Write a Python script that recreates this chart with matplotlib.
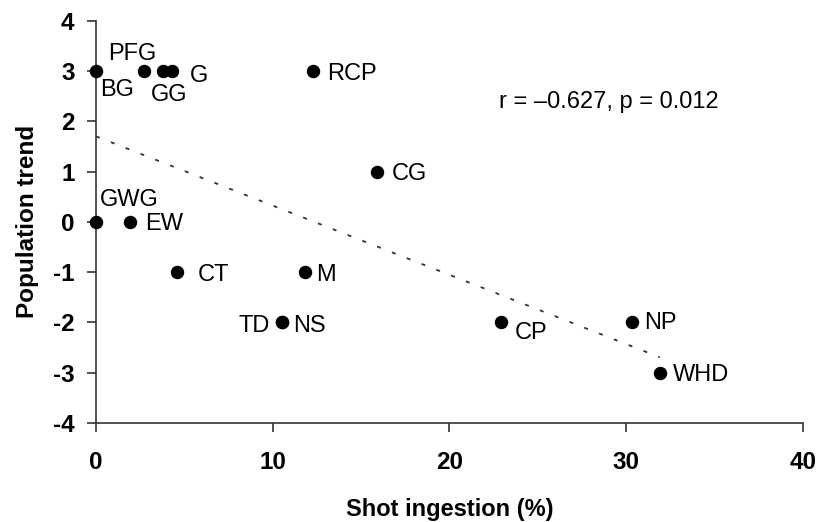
import matplotlib
matplotlib.use("Agg")
import matplotlib.pyplot as plt
import numpy as np

plt.rcParams['font.family'] = ['Liberation Sans', 'DejaVu Sans']
plt.rcParams['axes.unicode_minus'] = False

# shot ingestion (%) and population trend per species
species = ['BG', 'PFG', 'GG', 'G', 'RCP', 'CG', 'GWG', 'EW', 'CT', 'M',
           'TD', 'NS', 'CP', 'NP', 'WHD']
ingestion = [0.0, 2.7, 3.8, 4.3, 12.3, 15.9, 0.0, 1.9, 4.6, 11.8,
             10.5, 10.5, 22.9, 30.3, 31.9]
trend = [3, 3, 3, 3, 3, 1, 0, 0, -1, -1, -2, -2, -2, -2, -3]

# label offsets in pixels from the point (dx, dy of text middle, alignment)
offsets = {
    'BG': (4, -16.5, 'left'), 'PFG': (-36, 20, 'left'), 'GG': (-12, -21.5, 'left'),
    'G': (18, -2.5, 'left'), 'RCP': (14, 0, 'left'), 'CG': (15, 0, 'left'),
    'GWG': (4, 24.5, 'left'), 'EW': (15, 0, 'left'), 'CT': (20, 0, 'left'),
    'M': (12, 0, 'left'), 'TD': (-12, -1.5, 'right'), 'NS': (11.5, -1.5, 'left'),
    'CP': (14, -8, 'left'), 'NP': (13, 1.5, 'left'), 'WHD': (13, 0, 'left'),
}

x = np.array(ingestion)
y = np.array(trend)

fig = plt.figure(figsize=(8.21, 5.22), dpi=100)
ax = fig.add_axes([0.117, 0.190, 0.861, 0.770])

ax.scatter(x, y, s=75, color='black', zorder=3, clip_on=False)

# least squares trend line
slope, icpt = np.polyfit(x, y, 1)
xl = np.array([0, x.max()])
ax.plot(xl, icpt + slope * xl, color='#333333', linestyle=(0, (2.2, 6.6)), lw=1.3)

lab_size = 17
cap_half = lab_size * 100 / 72 * 0.716 / 2
for name, xi, yi in zip(species, x, y):
    dx, dy, ha = offsets[name]
    ax.annotate(name, (xi, yi), xytext=(dx, dy - cap_half), textcoords='offset pixels',
                ha=ha, va='baseline', fontsize=lab_size)

ax.text(29.0, 2.39, 'r = \u20130.627, p = 0.012', ha='center', va='center',
        fontsize=17)

ax.set_xlim(0, 40)
ax.set_ylim(-4, 4)
ax.set_xticks([0, 10, 20, 30, 40])
ax.set_yticks(range(-4, 5))
ax.spines['top'].set_visible(False)
ax.spines['right'].set_visible(False)
for s in ['left', 'bottom']:
    ax.spines[s].set_color('#333333')
    ax.spines[s].set_linewidth(1.2)
ax.tick_params(direction='out', length=6.5, width=1.2, color='#333333',
               labelsize=17.5, pad=9)
ax.tick_params(axis='x', pad=14)
for lbl in ax.get_xticklabels() + ax.get_yticklabels():
    lbl.set_fontweight('bold')

ax.set_xlabel('Shot ingestion (%)', fontsize=17, fontweight='bold', labelpad=17)
ax.set_ylabel('Population trend', fontsize=17.5, fontweight='bold', labelpad=10)

fig.savefig('out.png', dpi=100)
